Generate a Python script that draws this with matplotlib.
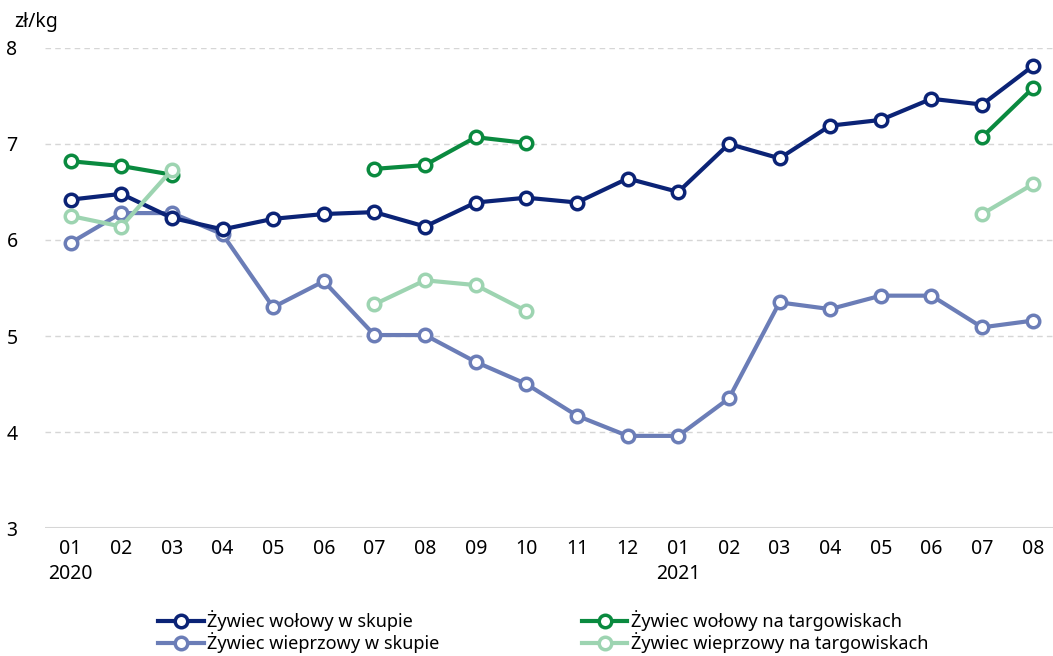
import numpy as np
import matplotlib.pyplot as plt

nan = np.nan

months = ["01", "02", "03", "04", "05", "06", "07", "08", "09", "10", "11", "12",
          "01", "02", "03", "04", "05", "06", "07", "08"]
years = {0: "2020", 12: "2021"}

wol_skup = [6.42, 6.48, 6.23, 6.11, 6.22, 6.27, 6.29, 6.14, 6.39, 6.44, 6.39, 6.64,
            6.50, 7.00, 6.85, 7.19, 7.25, 7.47, 7.41, 7.81]
wol_targ = [6.82, 6.77, 6.68, nan, nan, nan, 6.74, 6.78, 7.07, 7.01, nan, nan,
            nan, nan, nan, nan, nan, nan, 7.07, 7.58]
wiep_skup = [5.97, 6.28, 6.28, 6.06, 5.30, 5.57, 5.01, 5.01, 4.73, 4.50, 4.17, 3.96,
             3.96, 4.35, 5.35, 5.28, 5.42, 5.42, 5.09, 5.16]
wiep_targ = [6.25, 6.14, 6.73, nan, nan, nan, 5.33, 5.58, 5.53, 5.26, nan, nan,
             nan, nan, nan, nan, nan, nan, 6.27, 6.58]

plt.rcParams['font.family'] = ['Noto Sans', 'DejaVu Sans']

fig = plt.figure(figsize=(10.53, 6.56), dpi=100)
ax = fig.add_axes([0.043, 0.195, 0.957, 0.732])

x = np.arange(len(months))
series = [
    (wol_skup, "#0b2376", "Żywiec wołowy w skupie", 3),
    (wol_targ, "#0a8a3f", "Żywiec wołowy na targowiskach", 4),
    (wiep_skup, "#6b7db7", "Żywiec wieprzowy w skupie", 2),
    (wiep_targ, "#9dd4b1", "Żywiec wieprzowy na targowiskach", 5),
]
lines = {}
for vals, col, lab, z in series:
    l, = ax.plot(x, vals, color=col, lw=3, marker="o", ms=9, mfc="white",
                 mec=col, mew=2.5, label=lab, zorder=z)
    lines[lab] = l

ax.set_xlim(-0.5, 19.4)
ax.set_ylim(3, 8)
ax.set_yticks([3, 4, 5, 6, 7, 8])
for yv in [4, 5, 6, 7, 8]:
    ax.axhline(yv, color="#d6d6d6", lw=1, ls=(0, (4, 3)), zorder=0)
ax.axhline(3, color="#d6d6d6", lw=1.5, zorder=0)

labels = [m + ("\n" + years[i] if i in years else "\n") for i, m in enumerate(months)]
ax.set_xticks(x)
ax.set_xticklabels(labels, fontsize=14, linespacing=1.35)
ax.tick_params(axis="y", labelsize=14, length=0, pad=20)
ax.tick_params(axis="x", length=0, pad=8)
for s in ax.spines.values():
    s.set_visible(False)

fig.text(0.014, 0.966, "zł/kg", fontsize=14, ha="left", va="center")

order = ["Żywiec wołowy w skupie", "Żywiec wieprzowy w skupie",
         "Żywiec wołowy na targowiskach", "Żywiec wieprzowy na targowiskach"]
fig.legend([lines[k] for k in order], order, ncol=2, frameon=False,
           loc="lower left", bbox_to_anchor=(0.135, -0.02), fontsize=13,
           handlelength=2.5, handletextpad=0.2, columnspacing=7.9, labelspacing=0.05)

fig.savefig("out.png", dpi=100)
